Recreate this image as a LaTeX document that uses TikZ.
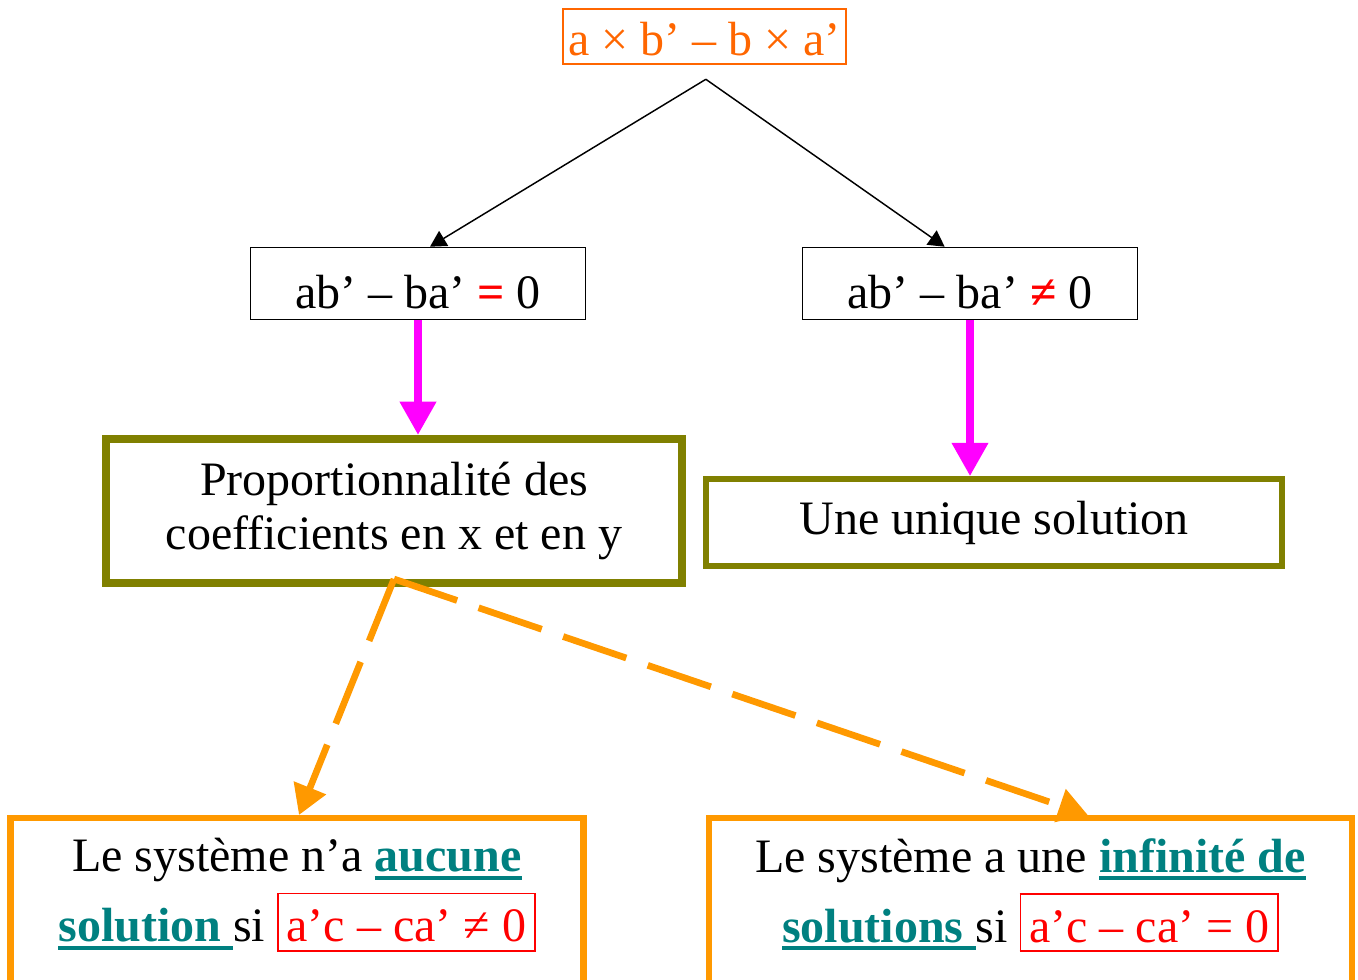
\documentclass[tikz,border=0pt]{standalone}
\usepackage{fontspec}
\setmainfont{Liberation Serif}
\usepackage{tikz}
\usetikzlibrary{arrows.meta, calc}
\usepackage{xcolor}

\definecolor{detorange}{HTML}{FF6600}
\definecolor{caseorange}{HTML}{FF9900}
\definecolor{propolive}{HTML}{808000}
\definecolor{keyteal}{HTML}{008080}
\definecolor{implmagenta}{HTML}{FF00FF}

\newsavebox{\ulbox}
\newcommand{\ulword}[1]{\sbox{\ulbox}{#1}\rlap{\rule[-6pt]{\wd\ulbox}{3pt}}\usebox{\ulbox}}
\newcommand{\redframe}[1]{{\setlength{\fboxrule}{1.1pt}\setlength{\fboxsep}{6pt}\fcolorbox{red}{white}{\rule{0pt}{29.5pt}\textcolor{red}{#1}}}}

\begin{document}
\begin{tikzpicture}[
    x=0.75pt, y=-0.75pt,
    bigtext/.style={font=\fontsize{36pt}{40pt}\selectfont},
    det/.style={draw=detorange, line width=1.2pt, text=detorange, bigtext, minimum width=212pt, minimum height=41pt, text height=27.75pt, text depth=0pt, inner sep=0pt},
    cond/.style={draw, line width=1.2pt, bigtext, minimum width=251pt, minimum height=54pt, text height=36.75pt, text depth=0pt, inner sep=0pt},
    result/.style={draw=propolive, bigtext, align=center, minimum width=432pt, inner sep=0pt},
    case/.style={draw=caseorange, line width=4.8pt, anchor=north, align=center, inner xsep=0pt, inner ysep=15pt, font=\fontsize{36pt}{52.5pt}\selectfont},
    branch/.style={draw, line width=1.1pt, -{Triangle[length=12pt, width=13pt]}},
    implies/.style={draw=implmagenta, line width=6pt, -{Triangle[length=25pt, width=26pt]}},
    subcase/.style={draw=caseorange, line width=5pt, dash pattern=on 50pt off 17pt, -{Triangle[length=22pt, width=25pt]}}
]
\path[use as bounding box] (0,0) rectangle (1358,979);
\clip (0,0) rectangle (1358,979);

\node[det] (det) at (704.5,36.5) {a × b’ – b × a’};
\node[cond] (zero) at (418,283.5) {ab’ – ba’ \textcolor{red}{\textbf{=}} 0};
\node[cond] (nonzero) at (970,283.5) {ab’ – ba’ \textcolor{red}{\textbf{≠}} 0};
\node[result, line width=6pt, minimum height=108pt] (prop) at (394,511) {Proportionnalité des\\coefficients en x et en y};
\node[result, line width=4.5pt, minimum height=65pt] (unique) at (994,522.5) {Une unique solution};
\node[case, minimum width=430pt] (none) at (297,815) {Le système n’a \textcolor{keyteal}{\bfseries\ulword{aucune}}\\\textcolor{keyteal}{\bfseries\ulword{solution\ }}si \redframe{a’c – ca’ ≠ 0}\rule[-40pt]{0pt}{40pt}};
\node[case, minimum width=482pt] (infinite) at (1030.5,815) {Le système a une \textcolor{keyteal}{\bfseries\ulword{infinité de}}\\\textcolor{keyteal}{\bfseries\ulword{solutions\ }}si \redframe{a’c – ca’ = 0}\rule[-40pt]{0pt}{40pt}};

\coordinate (fork) at ([xshift=1pt,yshift=-11pt]det.south);
\draw[branch] (fork) -- ([xshift=9pt]zero.north);
\draw[branch] (fork) -- ([xshift=-19pt]nonzero.north);
\draw[implies] (zero.south) -- (zero.south |- prop.north);
\draw[implies] (nonzero.south) -- (nonzero.south |- unique.north);
\draw[subcase] ([yshift=6pt]prop.south) -- ([xshift=1.5pt]none.north);
\draw[subcase] ([yshift=6pt]prop.south) -- ([xshift=43pt]infinite.north);

\end{tikzpicture}
\end{document}
